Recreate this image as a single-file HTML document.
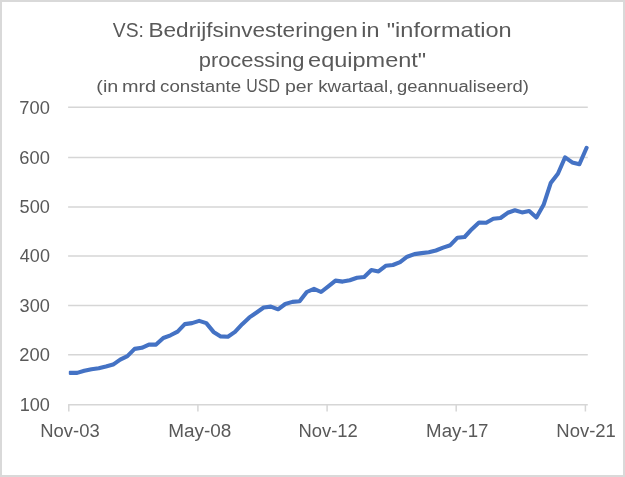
<!DOCTYPE html>
<html><head><meta charset="utf-8"><title>VS: Bedrijfsinvesteringen</title>
<style>
html,body{margin:0;padding:0;background:#fff;}
body{width:625px;height:477px;overflow:hidden;}
svg{display:block;}
text{font-family:"Liberation Sans",sans-serif;fill:#595959;}
</style></head><body>
<svg width="625" height="477" viewBox="0 0 625 477">
<defs><clipPath id="pc"><rect x="68.8" y="100" width="540" height="310"/></clipPath></defs>
<rect x="0" y="0" width="625" height="477" fill="#ffffff"/>
<rect x="1" y="1" width="623" height="475" fill="none" stroke="#d9d9d9" stroke-width="2"/>
<line x1="68.1" y1="107.3" x2="587.8" y2="107.3" stroke="#d6d6d6" stroke-width="1.5"/>
<line x1="68.1" y1="157.4" x2="587.8" y2="157.4" stroke="#d6d6d6" stroke-width="1.5"/>
<line x1="68.1" y1="207.0" x2="587.8" y2="207.0" stroke="#d6d6d6" stroke-width="1.5"/>
<line x1="68.1" y1="256.1" x2="587.8" y2="256.1" stroke="#d6d6d6" stroke-width="1.5"/>
<line x1="68.1" y1="305.5" x2="587.8" y2="305.5" stroke="#d6d6d6" stroke-width="1.5"/>
<line x1="68.1" y1="354.85" x2="587.8" y2="354.85" stroke="#d6d6d6" stroke-width="1.5"/>
<line x1="68.1" y1="404.8" x2="587.8" y2="404.8" stroke="#d6d6d6" stroke-width="1.5"/>
<line x1="68.8" y1="404.8" x2="68.8" y2="411.5" stroke="#d6d6d6" stroke-width="1.5"/>
<line x1="197.9" y1="404.8" x2="197.9" y2="411.5" stroke="#d6d6d6" stroke-width="1.5"/>
<line x1="327.1" y1="404.8" x2="327.1" y2="411.5" stroke="#d6d6d6" stroke-width="1.5"/>
<line x1="456.2" y1="404.8" x2="456.2" y2="411.5" stroke="#d6d6d6" stroke-width="1.5"/>
<line x1="585.4" y1="404.8" x2="585.4" y2="411.5" stroke="#d6d6d6" stroke-width="1.5"/>

<text x="112.8" y="37.0" font-size="21" textLength="31.12" lengthAdjust="spacingAndGlyphs">VS:</text>
<text x="148.53" y="37.0" font-size="21" textLength="209.33" lengthAdjust="spacingAndGlyphs">Bedrijfsinvesteringen</text>
<text x="361.35" y="37.0" font-size="21" textLength="18.23" lengthAdjust="spacingAndGlyphs">in</text>
<text x="386.69" y="37.0" font-size="21" textLength="124.97" lengthAdjust="spacingAndGlyphs">&quot;information</text>
<text x="198.73" y="66.5" font-size="21" textLength="105.79" lengthAdjust="spacingAndGlyphs">processing</text>
<text x="308.14" y="66.5" font-size="21" textLength="118.06" lengthAdjust="spacingAndGlyphs">equipment&quot;</text>
<text x="96.39" y="91.6" font-size="17.3" textLength="21.92" lengthAdjust="spacingAndGlyphs">(in</text>
<text x="122.0" y="91.6" font-size="17.3" textLength="34.15" lengthAdjust="spacingAndGlyphs">mrd</text>
<text x="160.05" y="91.6" font-size="17.3" textLength="81.2" lengthAdjust="spacingAndGlyphs">constante</text>
<text x="246.37" y="91.6" font-size="18" textLength="33.6" lengthAdjust="spacingAndGlyphs">USD</text>
<text x="284.95" y="91.6" font-size="17.3" textLength="28.15" lengthAdjust="spacingAndGlyphs">per</text>
<text x="318.22" y="91.6" font-size="17.3" textLength="75.21" lengthAdjust="spacingAndGlyphs">kwartaal,</text>
<text x="397.05" y="91.6" font-size="17.3" textLength="131.86" lengthAdjust="spacingAndGlyphs">geannualiseerd)</text>
<text x="40.27" y="437.0" font-size="18" textLength="59.39" lengthAdjust="spacingAndGlyphs">Nov-03</text>
<text x="168.18" y="437.0" font-size="18" textLength="63.13" lengthAdjust="spacingAndGlyphs">May-08</text>
<text x="298.47" y="437.0" font-size="18" textLength="59.39" lengthAdjust="spacingAndGlyphs">Nov-12</text>
<text x="426.13" y="437.0" font-size="18" textLength="62.34" lengthAdjust="spacingAndGlyphs">May-17</text>
<text x="556.32" y="437.0" font-size="18" textLength="59.54" lengthAdjust="spacingAndGlyphs">Nov-21</text>
<text x="19.35" y="113.5" font-size="18.3" textLength="30.56" lengthAdjust="spacingAndGlyphs">700</text>
<text x="19.35" y="163.7" font-size="18.3" textLength="30.56" lengthAdjust="spacingAndGlyphs">600</text>
<text x="19.6" y="213.2" font-size="18.3" textLength="30.3" lengthAdjust="spacingAndGlyphs">500</text>
<text x="19.86" y="262.4" font-size="18.3" textLength="30.04" lengthAdjust="spacingAndGlyphs">400</text>
<text x="19.6" y="311.8" font-size="18.3" textLength="30.3" lengthAdjust="spacingAndGlyphs">300</text>
<text x="19.34" y="361.1" font-size="18.3" textLength="30.56" lengthAdjust="spacingAndGlyphs">200</text>
<text x="19.67" y="411.1" font-size="18.3" textLength="30.25" lengthAdjust="spacingAndGlyphs">100</text>

<polyline points="70.0,372.9 77.2,372.9 84.3,370.8 91.5,369.2 98.7,368.2 105.9,366.5 113.1,364.6 120.2,359.6 127.4,356.1 134.6,348.9 141.8,347.8 148.9,344.6 156.1,344.6 163.3,338.0 170.5,335.3 177.6,331.6 184.8,324.1 192.0,323.1 199.2,320.9 206.3,323.1 213.5,331.9 220.7,336.4 227.9,336.7 235.0,331.9 242.2,324.2 249.4,317.4 256.6,312.5 263.7,307.5 270.9,306.6 278.1,309.3 285.2,304.0 292.4,301.9 299.6,301.3 306.8,292.0 314.0,288.8 321.1,292.0 328.3,286.4 335.5,280.6 342.7,281.6 349.8,280.2 357.0,277.8 364.2,277.0 371.4,270.1 378.5,271.4 385.7,265.8 392.9,265.0 400.1,262.1 407.2,256.7 414.4,254.1 421.6,253.1 428.8,252.3 435.9,250.5 443.1,247.6 450.3,245.2 457.5,237.7 464.6,237.0 471.8,229.2 479.0,222.5 486.2,222.8 493.3,218.8 500.5,218.0 507.7,212.8 514.9,210.2 522.0,212.4 529.2,211.0 536.4,217.5 543.6,204.8 550.7,183.1 557.9,173.7 565.1,157.3 572.2,162.4 579.4,164.2 586.6,147.8" fill="none" stroke="#4472c4" stroke-width="4.1" stroke-linejoin="round" stroke-linecap="round" clip-path="url(#pc)"/>
</svg>
</body></html>
